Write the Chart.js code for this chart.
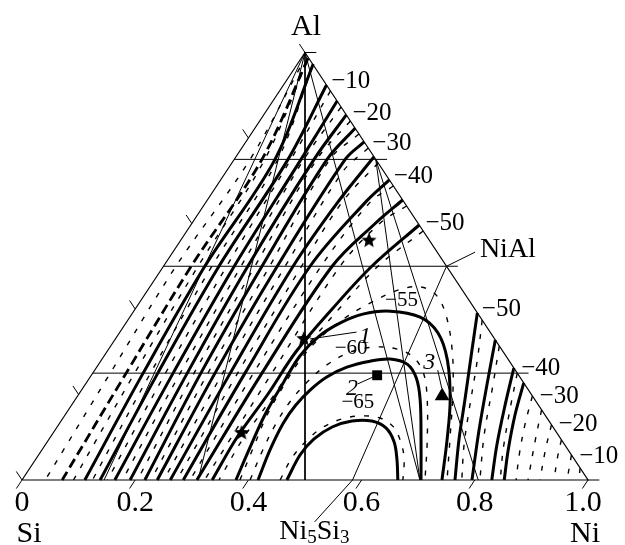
<!DOCTYPE html>
<html>
<head>
<meta charset="utf-8">
<script src="https://cdn.jsdelivr.net/npm/chart.js@4.4.1/dist/chart.umd.min.js"></script>
<style>
  html, body { margin: 0; padding: 0; background: #fff; }
  #wrap { width: 625px; height: 545px; }
</style>
</head>
<body>
<div id="wrap"><canvas id="c" width="625" height="545"></canvas></div>
<script>
// Compositions are [Ni, Al] mole fractions; Si = 1 - Ni - Al.
const vertexNames = { left: 'Si', right: 'Ni', top: 'Al' };
const bottomTickValues = [0, 0.2, 0.4, 0.6, 0.8, 1.0];
const bottomTickLabels = ['0', '0.2', '0.4', '0.6', '0.8', '1.0'];
const leftTickValues = [0, 0.2, 0.4, 0.6, 0.8, 1.0];
const rightTickValues = [0, 1];
const gridAl = [0.25, 0.5, 0.75];

// Solid isolines, Si-rich side (run from the Ni-Al edge down to the Si-Ni edge)
const isoA1 = [[0.012,0.987],[0.049,0.75],[0.049,0.5],[0.059,0.25],[0.071,0]];
const isoA2 = [[0.028,0.973],[0.072,0.75],[0.073,0.5],[0.089,0.25],[0.111,0]];
const iso10 = [[0.076,0.924],[0.095,0.75],[0.098,0.5],[0.115,0.25],[0.138,0]];
const iso15 = [[0.1135,0.8865],[0.118,0.75],[0.125,0.5],[0.142,0.25],[0.164,0]];
const iso20 = [[0.146,0.854],[0.141,0.75],[0.149,0.5],[0.167,0.25],[0.191,0]];
const iso25 = [[0.177,0.823],[0.164,0.75],[0.174,0.5],[0.191,0.25],[0.217,0]];
const iso30 = [[0.209,0.791],[0.196,0.75],[0.201,0.5],[0.216,0.25],[0.239,0]];
const iso35 = [[0.244,0.756],[0.233,0.65],[0.229,0.5],[0.243,0.25],[0.262,0]];
const iso40 = [[0.298,0.702],[0.282,0.65],[0.259,0.5],[0.269,0.25],[0.285,0]];
const iso45 = [[0.345,0.655],[0.324,0.6],[0.298,0.5],[0.299,0.25],[0.309,0]];
const iso50 = [[0.4035,0.5965],[0.368,0.5],[0.348,0.4],[0.334,0.3],[0.334,0.2],[0.330,0.1],[0.336,0]];
// Closed domes around the Ni5Si3 / NiAl region
const iso55 = [[0.378,0],[0.365,0.075],[0.353,0.152],[0.348,0.227],[0.346,0.290],[0.356,0.335],[0.378,0.367],[0.408,0.388],[0.453,0.395],[0.513,0.381],[0.563,0.344],[0.611,0.281],[0.663,0.187],[0.704,0.094],[0.742,0]];
const iso60 = [[0.417,0],[0.403,0.070],[0.395,0.133],[0.396,0.175],[0.404,0.211],[0.418,0.241],[0.442,0.264],[0.476,0.278],[0.509,0.283],[0.545,0.271],[0.577,0.239],[0.610,0.187],[0.658,0.094],[0.705,0]];
const iso65 = [[0.468,0],[0.462,0.059],[0.468,0.096],[0.486,0.124],[0.514,0.138],[0.549,0.138],[0.582,0.122],[0.613,0.089],[0.639,0.047],[0.664,0]];
// Solid isolines, Ni-rich side
const isoN50 = [[0.609,0.391],[0.643,0.304],[0.689,0.187],[0.725,0.094],[0.765,0]];
const isoN45 = [[0.6725,0.3275],[0.706,0.234],[0.749,0.117],[0.795,0]];
const isoN40 = [[0.738,0.262],[0.766,0.175],[0.798,0.082],[0.830,0]];
const isoN35 = [[0.773,0.227],[0.795,0.152],[0.824,0.070],[0.852,0]];

// Dashed isolines (second calculation)
const dashEdge = [[0.009,0.964],[0.028,0.75],[0.022,0.5],[0.031,0.25],[0.041,0]];
const dashA1 = [[0.014,0.98],[0.054,0.75],[0.061,0.5],[0.074,0.25],[0.091,0]];
const dashA2 = [[0.03,0.965],[0.077,0.75],[0.0855,0.5],[0.102,0.25],[0.1245,0]];
const dash10 = [[0.09,0.91],[0.100,0.75],[0.1115,0.5],[0.1285,0.25],[0.151,0]];
const dash15 = [[0.1275,0.8725],[0.123,0.75],[0.137,0.5],[0.1545,0.25],[0.1775,0]];
const dash20 = [[0.1602,0.8398],[0.146,0.75],[0.1615,0.5],[0.179,0.25],[0.204,0]];
const dash25 = [[0.1906,0.8094],[0.169,0.75],[0.1875,0.5],[0.2035,0.25],[0.228,0]];
const dash30 = [[0.2234,0.7766],[0.206,0.72],[0.215,0.5],[0.2295,0.25],[0.2505,0]];
const dash35 = [[0.2585,0.7415],[0.2406,0.65],[0.244,0.5],[0.256,0.25],[0.2735,0]];
const dash40 = [[0.3123,0.6877],[0.2902,0.65],[0.2785,0.5],[0.284,0.25],[0.297,0]];
const dash45 = [[0.3591,0.6409],[0.332,0.6],[0.312,0.5],[0.3165,0.25],[0.3225,0]];
const dash50 = [[0.4175,0.5825],[0.379,0.5],[0.36,0.4],[0.346,0.3],[0.346,0.2],[0.342,0.1],[0.348,0]];
const dash55 = [[0.385,0],[0.371,0.075],[0.357,0.152],[0.352,0.222],[0.351,0.281],[0.360,0.332],[0.381,0.379],[0.410,0.416],[0.442,0.444],[0.477,0.452],[0.515,0.433],[0.556,0.386],[0.608,0.304],[0.656,0.211],[0.709,0.094],[0.751,0]];
const dash60 = [[0.403,0],[0.391,0.066],[0.383,0.129],[0.382,0.183],[0.390,0.232],[0.405,0.271],[0.430,0.299],[0.468,0.311],[0.511,0.306],[0.547,0.288],[0.582,0.253],[0.616,0.199],[0.669,0.094],[0.712,0]];
const dash65 = [[0.456,0],[0.451,0.052],[0.456,0.089],[0.469,0.122],[0.494,0.143],[0.526,0.150],[0.560,0.145],[0.592,0.126],[0.621,0.094],[0.649,0.052],[0.673,0]];
const dashN50 = [[0.626,0.374],[0.664,0.281],[0.708,0.164],[0.740,0.082],[0.777,0]];
const dashN45 = [[0.6865,0.3135],[0.721,0.222],[0.764,0.105],[0.809,0]];
const dashN40 = [[0.750,0.250],[0.780,0.164],[0.815,0.070],[0.845,0]];
const dashN30 = [[0.8035,0.1965],[0.824,0.129],[0.849,0.059],[0.873,0]];
const dashN25 = [[0.836,0.164],[0.860,0.094],[0.894,0]];
const dashN20 = [[0.871,0.129],[0.888,0.075],[0.915,0]];
const dashN15 = [[0.906,0.094],[0.920,0.052],[0.940,0]];
const dashN10 = [[0.9415,0.0585],[0.963,0]];
const dashN5 = [[0.972,0.028],[0.984,0]];

// Thin construction lines: Al corner and Al3Ni / NiAl to the Si-Ni side
const tieLines = [
  [[0,1],[0.145,0]],
  [[0,1],[0.311,0]],
  [[0,1],[0.5,0]],
  [[0,1],[0.703,0]],
  [[0.25,0.75],[0.703,0]],
  [[0.25,0.75],[0.806,0]],
  [[0.5,0.5],[0.584,0]]
];

// Experimental points
const starPoints = [[0.333,0.56],[0.333,0.33],[0.333,0.11]];
const squarePoints = [[0.505,0.245]];
const trianglePoints = [[0.644,0.1965]];
const leaders = [
  [[0.418,0.346],[0.344,0.330]],
  [[0.481,0.225],[0.500,0.241]],
  [[0.606,0.257],[0.634,0.215]],
  [[0.5,0.5],[0.534,0.533]],
  [[0.584,0],[0.566,-0.098]]
];

// Isoline values written beside the Ni-Al edge, keyed by Al fraction
const edgeLabelText = ['−10','−20','−30','−40','−50','−50','−40','−30','−20','−10'];
const edgeLabelAl = [0.932, 0.857, 0.787, 0.711, 0.599, 0.400, 0.261, 0.196, 0.129, 0.056];
const domeLabelText = ['−55','−60','−65'];
const domeLabelPos = [[0.4605,0.420],[0.4275,0.308],[0.503,0.181]];
const pointLabelText = ['1','2','3'];
const pointLabelPos = [[0.438,0.336],[0.476,0.214],[0.582,0.275]];

const toXY = ([ni, al]) => ({ x: ni + al / 2, y: al });

const solidLines = [isoA2, iso10, iso15, iso20, iso25, iso30, iso35, iso40, iso45, iso50,
  iso55, iso60, iso65, isoN50, isoN45, isoN40, isoN35];
const dashedLines = [dashEdge, dashA1, dashA2, dash10, dash15, dash20, dash25, dash30, dash35,
  dash40, dash45, dash50, dash55, dash60, dash65, dashN50, dashN45, dashN40, dashN30,
  dashN25, dashN20, dashN15, dashN10, dashN5];

function lineSet(points, width, dash, tension) {
  return {
    data: points.map(toXY), showLine: true, borderColor: '#000', borderWidth: width,
    borderDash: dash, pointRadius: 0, tension: tension, clip: false, fill: false,
    borderCapStyle: 'butt'
  };
}

const datasets = [];
// triangle frame
datasets.push(lineSet([[0,0],[1,0],[0,1],[0,0]], 1.2, [], 0));
// constant-Al grid lines, extended past the Ni-Al edge
gridAl.forEach(a => datasets.push(lineSet([[0,a],[1 - a + 0.02, a]], 1, [], 0)));
// tick marks: constant-composition lines pushed just outside each edge
bottomTickValues.forEach(n => datasets.push(lineSet([[n,0],[n,-0.02]], 1, [], 0)));
leftTickValues.forEach(a => datasets.push(lineSet([[0,a],[-0.02,a + 0.02]], 1, [], 0)));
rightTickValues.forEach(a => datasets.push(lineSet([[1 - a,a],[1 - a + 0.02,a]], 1, [], 0)));
tieLines.forEach(l => datasets.push(lineSet(l, 1, [], 0)));
leaders.forEach(l => datasets.push(lineSet(l, 1, [], 0)));
dashedLines.forEach(l => datasets.push(lineSet(l, 1.4, [5, 9], 0.35)));
datasets.push(lineSet(isoA1, 2.8, [10, 5], 0.35));
solidLines.forEach(l => datasets.push(lineSet(l, 3, [], 0.35)));

function starImage(r) {
  const c = document.createElement('canvas');
  c.width = c.height = 2 * r + 2;
  const g = c.getContext('2d');
  g.beginPath();
  for (let i = 0; i < 10; i++) {
    const ang = -Math.PI / 2 + i * Math.PI / 5;
    const rr = i % 2 ? r * 0.45 : r;
    g.lineTo(r + 1 + rr * Math.cos(ang), r + 1 + rr * Math.sin(ang));
  }
  g.closePath();
  g.fillStyle = '#000';
  g.fill();
  return c;
}

datasets.push({ data: starPoints.map(toXY), showLine: false, pointStyle: starImage(8),
  pointRadius: 8, clip: false });
datasets.push({ data: squarePoints.map(toXY), showLine: false, pointStyle: 'rect',
  pointRadius: 7, backgroundColor: '#000', borderColor: '#000', borderWidth: 0, clip: false });
datasets.push({ data: trianglePoints.map(toXY), showLine: false, pointStyle: 'triangle',
  pointRadius: 8.5, backgroundColor: '#000', borderColor: '#000', borderWidth: 0, clip: false });

const SERIF = '"Liberation Serif", "Times New Roman", serif';

const textPlugin = {
  id: 'ternaryText',
  afterDatasetsDraw(chart) {
    const { ctx, scales: { x, y } } = chart;
    const px = p => [x.getPixelForValue(p[0] + p[1] / 2), y.getPixelForValue(p[1])];
    ctx.save();
    ctx.fillStyle = '#000';

    // axis numbers along Si-Ni
    ctx.font = '30px ' + SERIF;
    ctx.textAlign = 'center';
    ctx.textBaseline = 'alphabetic';
    bottomTickValues.forEach((n, i) => {
      const [X, Y] = px([n, 0]);
      ctx.fillText(bottomTickLabels[i], X - (i === 5 ? 5 : 0), Y + 31);
    });

    // vertex names
    let [X, Y] = px([0, 0]);
    ctx.fillText(vertexNames.left, X + 7, Y + 62);
    [X, Y] = px([1, 0]);
    ctx.fillText(vertexNames.right, X - 3, Y + 62);
    [X, Y] = px([0, 1]);
    ctx.fillText(vertexNames.top, X + 1, Y - 18);

    // compound labels
    ctx.font = '28px ' + SERIF;
    ctx.textAlign = 'left';
    ctx.textBaseline = 'middle';
    [X, Y] = px([0.54, 0.538]);
    ctx.fillText('NiAl', X, Y);

    // Ni5Si3 with subscripts, centred under its leader
    const parts = [['Ni', false], ['5', true], ['Si', false], ['3', true]];
    const big = '28px ' + SERIF, small = '19px ' + SERIF;
    let w = 0;
    parts.forEach(([t, sub]) => { ctx.font = sub ? small : big; w += ctx.measureText(t).width; });
    [X, Y] = px([0.581, -0.129]);
    let cx = X - w / 2;
    ctx.textBaseline = 'alphabetic';
    parts.forEach(([t, sub]) => {
      ctx.font = sub ? small : big;
      ctx.fillText(t, cx, Y + (sub ? 8 : 4));
      cx += ctx.measureText(t).width;
    });

    // isoline values along the Ni-Al edge
    ctx.font = '25px ' + SERIF;
    ctx.textAlign = 'left';
    ctx.textBaseline = 'middle';
    edgeLabelAl.forEach((a, i) => {
      const [ex, ey] = px([1 - a, a]);
      ctx.fillText(edgeLabelText[i], ex + 7, ey);
    });

    // dome values
    ctx.font = '21px ' + SERIF;
    ctx.textAlign = 'center';
    domeLabelPos.forEach((p, i) => {
      const [lx, ly] = px(p);
      ctx.fillText(domeLabelText[i], lx, ly);
    });

    // point numbers
    ctx.font = 'italic 24px ' + SERIF;
    pointLabelPos.forEach((p, i) => {
      const [lx, ly] = px(p);
      ctx.fillText(pointLabelText[i], lx, ly);
    });
    ctx.restore();
  }
};

new Chart(document.getElementById('c'), {
  type: 'scatter',
  data: { datasets },
  options: {
    responsive: false,
    animation: false,
    events: [],
    layout: { padding: { left: 22, right: 37, top: 52.5, bottom: 65 } },
    scales: {
      x: { type: 'linear', min: 0, max: 1, display: false },
      y: { type: 'linear', min: 0, max: 1, display: false }
    },
    plugins: { legend: { display: false }, tooltip: { enabled: false } }
  },
  plugins: [textPlugin]
});
</script>
</body>
</html>
